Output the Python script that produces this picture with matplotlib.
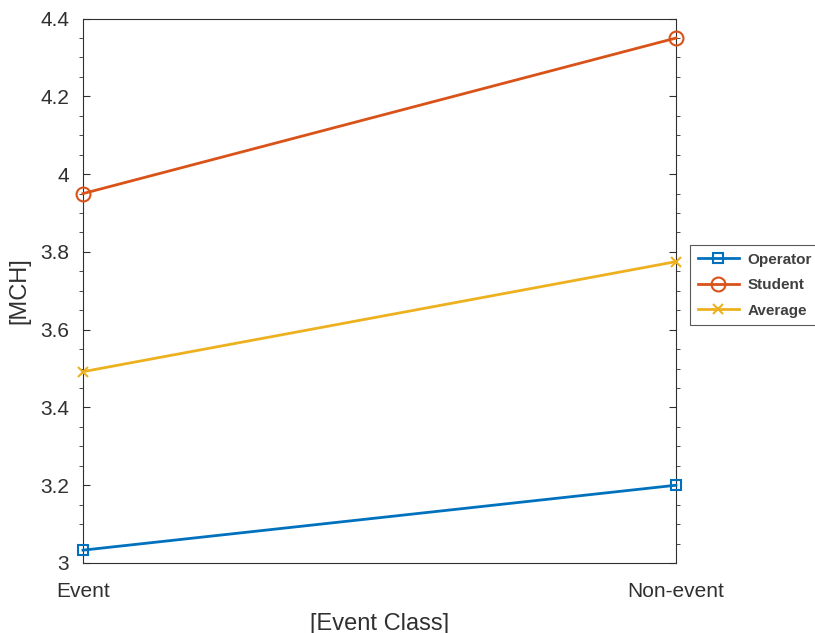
import matplotlib.pyplot as plt
from matplotlib.ticker import MultipleLocator, FormatStrFormatter

plt.rcParams['font.family'] = ['Liberation Sans', 'DejaVu Sans']

# data
event_classes = ['Event', 'Non-event']
operator_mch = [3.033, 3.20]
student_mch = [3.95, 4.35]
average_mch = [3.492, 3.775]

fig = plt.figure(figsize=(8.15, 6.33), dpi=100)
ax = fig.add_axes([0.1018, 0.1106, 0.7276, 0.8600])

x = range(len(event_classes))
ax.plot(x, operator_mch, color='#0072BD', lw=2, marker='s', ms=7, mfc='none', mew=1.5,
        label='Operator', clip_on=False, zorder=3)
ax.plot(x, student_mch, color='#D95319', lw=2, marker='o', ms=10, mfc='none', mew=1.5,
        label='Student', clip_on=False, zorder=3)
ax.plot(x, average_mch, color='#EDB120', lw=2, marker='x', ms=7, mew=1.5,
        label='Average', clip_on=False, zorder=3)

ax.set_xlim(0, 1)
ax.set_ylim(3, 4.4)
ax.set_xticks(list(x))
ax.set_xticklabels(event_classes)
ax.yaxis.set_major_locator(MultipleLocator(0.2))
ax.yaxis.set_minor_locator(MultipleLocator(0.05))
ax.yaxis.set_major_formatter(FormatStrFormatter('%g'))

ax.tick_params(axis='both', direction='in', labelsize=15, colors='#303030', width=0.8)
ax.tick_params(axis='y', which='both', right=True, pad=10)
ax.tick_params(axis='y', which='major', length=5)
ax.tick_params(axis='y', which='minor', length=3, color='#303030')
ax.tick_params(axis='x', length=0, pad=14)
for s in ax.spines.values():
    s.set_color('#303030')
    s.set_linewidth(0.8)

ax.set_xlabel('[Event Class]', fontsize=17, color='#303030', labelpad=8)
ax.set_ylabel('[MCH]', fontsize=17, color='#303030', labelpad=7)

# legend sits outside the axes on the right, frame runs off the figure edge
leg = fig.legend(loc='upper left', bbox_to_anchor=(0.8466, 0.6130), borderaxespad=0,
                 prop={'weight': 'bold', 'size': 11}, frameon=True, fancybox=False,
                 handlelength=2.7, handletextpad=0.55, borderpad=0.5, labelspacing=0.75)
leg.get_frame().set_edgecolor('#303030')
leg.get_frame().set_linewidth(0.8)
for t in leg.get_texts():
    t.set_color('#404040')

fig.savefig('out.png', dpi=100)
